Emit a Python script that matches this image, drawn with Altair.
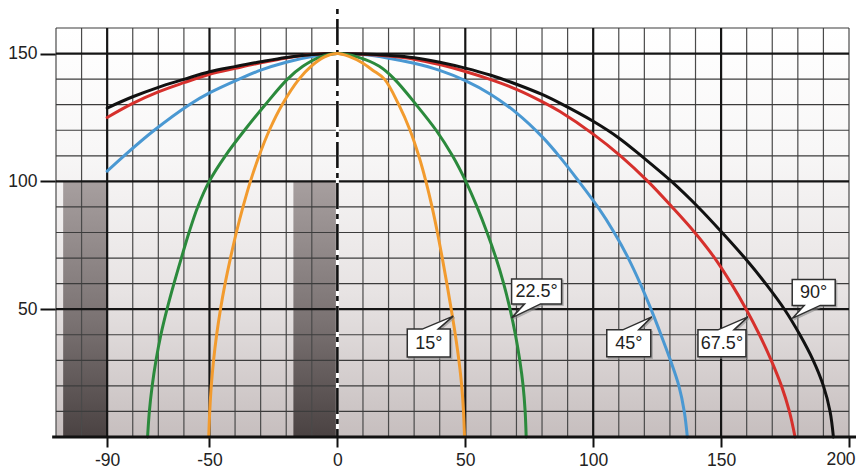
import altair as alt
import pandas as pd

# ---------------- data ----------------
x_domain = [-110, 200]
y_domain = [0, 160]
x_ticks = [-90, -50, 0, 50, 100, 150, 200]
y_ticks = [50, 100, 150]
x_major = [-90, -50, 50, 100, 150]
y_major = [50, 100, 150]

# window walls (dark bars)
wall_start = [-107.2, -17.2]
wall_end = [-90, 0]
wall_top = [100, 100]

orange_x = [-50.3, -49.9, -49.3, -48.4, -47.2, -45.7, -43.9, -41.8, -39.5, -36.9, -34.0, -30.6,
            -26.6, -21.6, -15.0, -10.3, -5.2, 0, 5.0, 9.5, 13.8, 18.4, 24.0, 28.4, 31.8, 34.6,
            37.0, 39.1, 41.0, 42.8, 44.5, 46.1, 47.5, 48.6, 49.3, 49.7]
orange_y = [0, 10, 20, 30, 40, 50, 60, 70, 80, 90, 100, 110,
            120, 130, 140, 145, 148.6, 150, 148.7, 146.5, 143.5, 140, 130, 120, 110, 100,
            90, 80, 70, 60, 50, 40, 30, 20, 10, 0]

green_x = [-74.2, -73.5, -72.4, -70.9, -69.0, -66.6, -63.9, -61.0, -58.0, -54.6, -50.1, -43.8,
           -36.3, -28.2, -19.5, -13.5, -7.0, 0, 8.0, 16.4, 22.3, 30.8, 38.6, 45.0, 50.2, 54.6,
           58.5, 62.0, 65.0, 67.5, 69.6, 71.3, 72.6, 73.4, 73.8]
green_y = [0, 10, 20, 30, 40, 50, 60, 70, 80, 90, 100, 110,
           120, 130, 140, 145, 148.5, 150, 148.6, 145, 140, 130, 120, 110, 100, 90,
           80, 70, 60, 50, 40, 30, 20, 10, 0]

blue_x = [-90, -83.4, -71.6, -57.9, -50, -38.4, -30, -20, -10, 0, 10, 20, 30, 40, 50, 60,
          70, 80, 87, 94.4, 101.8, 108.2, 113.7, 118.4, 122.6, 126.5, 130.2, 133.5, 135.6, 136.8]
blue_y = [104, 110, 120, 130, 134.6, 140, 143.5, 146.6, 148.8, 150, 149.6, 148.2, 146.2, 143.4,
          139.4, 134, 126.8, 117.5, 109.5, 100, 90, 80, 70, 60, 50, 40, 30, 20, 10, 0]

red_x = [-90, -80, -70, -60, -50, -40, -30, -20, -10, 0, 10, 20, 30, 40, 50, 60, 70, 80, 87,
         100, 111.0, 121.4, 130.8, 139.7, 147.5, 154.0, 159.8, 165.0, 169.6, 173.6, 176.7, 178.9]
red_y = [125, 130.5, 135, 138.6, 141.9, 144.2, 146.4, 148.3, 149.6, 150, 149.7, 149, 147.8,
         145.7, 143, 139.8, 136, 131.2, 127.3, 118.5, 109.7, 100, 90, 80, 70, 60, 50, 40, 30, 20, 10, 0]

black_x = [-90, -80, -70, -60, -50, -40, -30, -20, -10, 0, 10, 20, 30, 40, 50, 60, 70, 80, 87,
           100, 110, 120, 130.6, 141.0, 150.2, 159.3, 167.8, 175.0, 180.8, 186.0, 190.0, 192.6, 193.9]
black_y = [128.7, 133.1, 136.8, 139.9, 142.9, 144.9, 146.8, 148.5, 149.6, 150, 149.8, 149.3,
           148.4, 146.6, 144.3, 141.5, 138, 134, 130.6, 123.5, 117, 109, 100, 90, 80.2, 70, 59.5,
           49.6, 40, 30, 20, 10, 0]

labels = ["15°", "22.5°", "45°", "67.5°", "90°"]
label_x = [45.3, 68.1, 122.9, 160.5, 177.8]
label_y = [47.3, 46.6, 47.0, 47.0, 46.4]

# dashed centre line top, bottom axis line extent
center_top = 167.4
base_from, base_to = -111.5, 205.9

# ---------------- chart ----------------
FONT = "Liberation Sans"
W, H = 793, 409
xs = alt.Scale(domain=x_domain, nice=False, zero=False)
ys = alt.Scale(domain=y_domain, nice=False, zero=False)

last_x = x_ticks[-1]
x_axis = alt.Axis(values=x_ticks, title=None, grid=False, domain=False, tickSize=10, tickWidth=2,
                  tickColor="#111", labelFont=FONT, labelFontSize=17.5, labelColor="#222",
                  labelPadding=4, labelFlush=False, labelOverlap=False,
                  labelExpr="datum.value == %d ? '' : datum.value + ''" % last_x)
y_axis = alt.Axis(values=y_ticks, title=None, grid=False, domain=False, tickSize=16, tickWidth=2,
                  tickColor="#111", labelFont=FONT, labelFontSize=17.5, labelColor="#222",
                  labelPadding=3, labelOverlap=False, labelExpr="datum.value + ''")


def X(f):
    return alt.X(f, type="quantitative", scale=xs, axis=x_axis)


def Y(f):
    return alt.Y(f, type="quantitative", scale=ys, axis=y_axis)


bg_df = pd.DataFrame({"x": [x_domain[0]], "x2": [x_domain[1]], "y": [y_domain[0]], "y2": [y_domain[1]]})
bg = alt.Chart(bg_df).mark_rect(
    color=alt.LinearGradient(
        gradient="linear",
        stops=[alt.GradientStop(color="#ffffff", offset=0),
               alt.GradientStop(color="#f8f7f7", offset=0.3),
               alt.GradientStop(color="#e7e3e3", offset=0.65),
               alt.GradientStop(color="#c6bebe", offset=1)],
        x1=0, x2=0, y1=0, y2=1)
).encode(x=X("x"), x2="x2:Q", y=Y("y"), y2="y2:Q")

wall_df = pd.DataFrame({"x": wall_start, "x2": wall_end, "y": [0] * len(wall_top), "y2": wall_top})
walls = alt.Chart(wall_df).mark_rect(
    color=alt.LinearGradient(
        gradient="linear",
        stops=[alt.GradientStop(color="#a79f9f", offset=0),
               alt.GradientStop(color="#7a7272", offset=0.55),
               alt.GradientStop(color="#4a4242", offset=1)],
        x1=0, x2=0, y1=0, y2=1)
).encode(x=X("x"), x2="x2:Q", y=Y("y"), y2="y2:Q")

vx_minor = [v for v in range(x_domain[0], x_domain[1] + 1, 10) if v not in x_major and v != 0]
hy_minor = [v for v in range(10, y_domain[1] + 1, 10) if v not in y_major]

grid_vm = alt.Chart(pd.DataFrame({"v": vx_minor})).mark_rule(color="#4a4a4a", strokeWidth=1.2).encode(x=X("v"))
grid_hm = alt.Chart(pd.DataFrame({"v": hy_minor})).mark_rule(color="#3c3c3c", strokeWidth=1.2).encode(y=Y("v"))
grid_vM = alt.Chart(pd.DataFrame({"v": x_major})).mark_rule(color="#151515", strokeWidth=2.2).encode(x=X("v"))
grid_hM = alt.Chart(pd.DataFrame({"v": y_major})).mark_rule(color="#151515", strokeWidth=2.2).encode(y=Y("v"))

zero_df = pd.DataFrame({"x": [0], "y": [y_domain[1]], "y2": [0]})
zero_white = alt.Chart(zero_df).mark_rule(color="#ffffff", strokeWidth=3).encode(x=X("x"), y=Y("y"), y2="y2:Q")
zero_dash_df = pd.DataFrame({"x": [0], "y": [center_top], "y2": [0]})
zero_dash = alt.Chart(zero_dash_df).mark_rule(
    color="#111", strokeWidth=2.6, strokeDash=[26, 5, 5, 5], strokeDashOffset=31
).encode(x=X("x"), y=Y("y"), y2="y2:Q")

curves = []
for cx, cy, col in [(blue_x, blue_y, "#4a98d2"), (red_x, red_y, "#d6302c"),
                    (black_x, black_y, "#111111"), (green_x, green_y, "#2b8a3c"),
                    (orange_x, orange_y, "#f29b2e")]:
    curves.append(
        alt.Chart(pd.DataFrame({"x": cx, "y": cy})).mark_line(
            color=col, strokeWidth=3, interpolate="catmull-rom", strokeCap="round"
        ).encode(x=X("x"), y=Y("y"))
    )

base_df = pd.DataFrame({"x": [base_from], "x2": [base_to], "y": [0]})
base = alt.Chart(base_df).mark_rule(color="#111", strokeWidth=3).encode(x=X("x"), x2="x2:Q", y=Y("y"))

# last x tick label, nudged left so it stays inside the page
last_df = pd.DataFrame({"x": [last_x], "y": [y_domain[0]], "t": [str(last_x)]})
last_label = alt.Chart(last_df).mark_text(
    dx=-8, dy=14, align="center", baseline="top", font=FONT, fontSize=17.5, color="#222"
).encode(x=X("x"), y=Y("y"), text="t:N")

# callout bubble geometry (pixels relative to pointer tip) and text offsets
bubble_style = {
    "15°": ("M0,0 L-15,13 L-3,13 L-3,41 L-46,41 L-46,13 L-31,13 Z", -24.5, 27.5),
    "22.5°": ("M0,0 L29,-14 L50,-14 L50,-39 L0,-39 L0,-14 L13,-14 Z", 25, -26),
    "45°": ("M0,0 L-13,13 L-1,13 L-1,40 L-45,40 L-45,13 L-29,13 Z", -23, 27),
    "67.5°": ("M0,0 L-14,13 L-2,13 L-2,40 L-50,40 L-50,13 L-30,13 Z", -26, 27),
    "90°": ("M0,0 L28,-13 L43,-13 L43,-39 L0,-39 L0,-13 L12,-13 Z", 21.5, -25.5),
}
lab_df = pd.DataFrame({"label": labels, "x": label_x, "y": label_y})
bubbles = []
for lab in labels:
    path, dx, dy = bubble_style[lab]
    base_c = alt.Chart(lab_df).transform_filter(alt.datum.label == lab)
    bubbles.append(base_c.mark_point(shape=path, size=4, filled=True, fill="#8c8c8c", stroke="#8c8c8c",
                                     strokeWidth=1.2, opacity=0.6, xOffset=1.5, yOffset=1.5)
                   .encode(x=X("x"), y=Y("y")))
    bubbles.append(base_c.mark_point(shape=path, size=4, filled=True, fill="#ffffff", stroke="#2f2f2f",
                                     strokeWidth=1.5, opacity=1)
                   .encode(x=X("x"), y=Y("y")))
    bubbles.append(base_c.mark_text(dx=dx, dy=dy, align="center", baseline="middle", font=FONT,
                                    fontSize=18, color="#222")
                   .encode(x=X("x"), y=Y("y"), text="label:N"))

chart = alt.layer(
    bg, walls, grid_vm, grid_hm, grid_vM, grid_hM, zero_white, zero_dash, *curves, base,
    last_label, *bubbles
).properties(
    width=W, height=H,
    autosize=alt.AutoSizeParams(type="none"),
    padding={"left": 48, "top": 20, "right": 7, "bottom": 32},
).configure_view(stroke=None)

chart.save("out.html", embed_options={"renderer": "svg", "actions": False})
